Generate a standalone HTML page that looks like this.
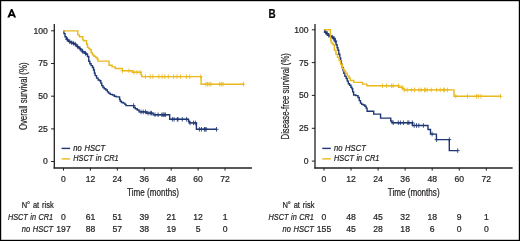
<!DOCTYPE html>
<html><head><meta charset="utf-8"><style>
html,body{margin:0;padding:0;background:#fff;}
svg{display:block;will-change:transform;font-family:"Liberation Sans",sans-serif;}
text{stroke:#231f20;stroke-width:0.22px;}
</style></head><body>
<svg width="520" height="241" viewBox="0 0 520 241">
<rect x="0" y="0" width="520" height="241" fill="#fff"/>
<rect x="0.6" y="0.6" width="518.8" height="239.8" fill="none" stroke="#000" stroke-width="1.2"/>
<path d="M7.3 17.6L11.0 8.9H12.4L16.1 17.6H13.9L13.3 16.0H10.1L9.5 17.6ZM10.75 14.2H12.65L11.7 11.5Z" fill="#000" fill-rule="evenodd"/>
<path d="M54.3 24.1V168.6" fill="none" stroke="#231f20" stroke-width="1.3"/>
<path d="M53.65 168.0H251.89999999999998" fill="none" stroke="#231f20" stroke-width="1.6"/>
<path d="M51.099999999999994 30.8H54.3M51.099999999999994 63.5H54.3M51.099999999999994 96.2H54.3M51.099999999999994 128.9H54.3M51.099999999999994 161.5H54.3M63.50 167.8V170.6M90.42 167.8V170.6M117.34 167.8V170.6M144.26 167.8V170.6M171.18 167.8V170.6M198.10 167.8V170.6M225.02 167.8V170.6" stroke="#231f20" stroke-width="1"/>
<text x="47.9" y="33.70" text-anchor="end" font-size="8.6px" fill="#231f20">100</text>
<text x="47.9" y="66.40" text-anchor="end" font-size="8.6px" fill="#231f20">75</text>
<text x="47.9" y="99.10" text-anchor="end" font-size="8.6px" fill="#231f20">50</text>
<text x="47.9" y="131.80" text-anchor="end" font-size="8.6px" fill="#231f20">25</text>
<text x="47.9" y="164.40" text-anchor="end" font-size="8.6px" fill="#231f20">0</text>
<text x="63.50" y="181.6" text-anchor="middle" font-size="8.6px" fill="#231f20">0</text>
<text x="90.42" y="181.6" text-anchor="middle" font-size="8.6px" fill="#231f20">12</text>
<text x="117.34" y="181.6" text-anchor="middle" font-size="8.6px" fill="#231f20">24</text>
<text x="144.26" y="181.6" text-anchor="middle" font-size="8.6px" fill="#231f20">36</text>
<text x="171.18" y="181.6" text-anchor="middle" font-size="8.6px" fill="#231f20">48</text>
<text x="198.10" y="181.6" text-anchor="middle" font-size="8.6px" fill="#231f20">60</text>
<text x="225.02" y="181.6" text-anchor="middle" font-size="8.6px" fill="#231f20">72</text>
<text x="127.10" y="195.5" font-size="10px" textLength="51.8" lengthAdjust="spacingAndGlyphs" fill="#231f20">Time (months)</text>
<text transform="translate(27.099999999999998,130.10) rotate(-90)" x="0" y="0" font-size="10px" textLength="67.6" lengthAdjust="spacingAndGlyphs" fill="#231f20">Overall survival (%)</text>
<path d="M61.599999999999994 148.4H70.1" stroke="#1f3874" stroke-width="1.4"/>
<path d="M61.599999999999994 158.9H70.1" stroke="#eab91e" stroke-width="1.4"/>
<text x="73.3" y="150.6" font-style="italic" font-size="8.2px" word-spacing="0.6" textLength="31.8" lengthAdjust="spacingAndGlyphs" fill="#231f20">no HSCT</text>
<text x="73.3" y="161.1" font-style="italic" font-size="8.2px" word-spacing="0.6" textLength="45.4" lengthAdjust="spacingAndGlyphs" fill="#231f20">HSCT in CR1</text>
<polyline points="63.50,30.80 63.95,30.80 63.95,33.60 64.40,33.60 65.00,33.60 65.00,36.75 65.60,36.75 66.25,36.75 66.25,38.90 66.90,38.90 67.50,38.90 67.50,40.50 68.10,40.50 68.75,40.50 68.75,41.40 69.40,41.40 70.00,41.40 70.00,42.30 70.60,42.30 71.55,42.30 71.55,43.00 72.50,43.00 73.45,43.00 73.45,43.60 74.40,43.60 75.00,43.60 75.00,44.40 75.60,44.40 75.92,44.40 75.92,45.40 76.25,45.40 76.88,45.40 76.88,46.50 77.50,46.50 78.12,46.50 78.12,47.40 78.75,47.40 79.38,47.40 79.38,48.60 80.00,48.60 80.62,48.60 80.62,49.90 81.25,49.90 82.17,49.90 82.17,51.75 83.10,51.75 84.05,51.75 84.05,53.00 85.00,53.00 85.95,53.00 85.95,54.25 86.90,54.25 87.50,54.25 87.50,56.50 88.10,56.50 88.75,56.50 88.75,61.25 89.40,61.25 89.83,61.25 89.83,63.75 90.25,63.75 91.08,63.75 91.08,65.60 91.90,65.60 92.50,65.60 92.50,67.50 93.10,67.50 93.55,67.50 93.55,70.00 94.00,70.00 94.38,70.00 94.38,73.10 94.75,73.10 95.17,73.10 95.17,75.60 95.60,75.60 96.55,75.60 96.55,78.10 97.50,78.10 98.12,78.10 98.12,80.00 98.75,80.00 99.62,80.00 99.62,80.80 100.50,80.80 100.80,80.80 100.80,83.10 101.10,83.10 101.75,83.10 101.75,85.60 102.40,85.60 103.00,85.60 103.00,87.50 103.60,87.50 104.25,87.50 104.25,88.75 104.90,88.75 105.83,88.75 105.83,90.00 106.75,90.00 107.38,90.00 107.38,91.90 108.00,91.90 108.62,91.90 108.62,93.10 109.25,93.10 110.17,93.10 110.17,94.40 111.10,94.40 112.35,94.40 112.35,95.00 113.60,95.00 114.25,95.00 114.25,96.25 114.90,96.25 116.15,96.25 116.15,96.90 117.40,96.90 119.25,96.90 119.58,96.90 119.58,99.40 119.90,99.40 120.20,99.40 120.20,101.25 120.50,101.25 121.45,101.25 121.45,102.50 122.40,102.50 123.33,102.50 123.33,103.10 124.25,103.10 124.88,103.10 124.88,104.40 125.50,104.40 126.00,104.40 126.00,105.60 126.50,105.60 133.10,105.60 133.75,105.60 133.75,107.50 134.40,107.50 135.32,107.50 135.32,108.75 136.25,108.75 137.18,108.75 137.18,110.00 138.10,110.00 139.05,110.00 139.05,111.90 140.00,111.90 146.25,111.90 146.57,111.90 146.57,113.10 146.90,113.10 152.50,113.10 153.12,113.10 153.12,114.75 153.75,114.75 169.65,114.75 169.65,119.30 188.25,119.30 188.53,119.30 188.53,121.40 188.80,121.40 189.40,121.40 189.40,122.90 190.00,122.90 196.40,122.90 196.40,129.30 216.50,129.30" fill="none" stroke="#1f3874" stroke-width="1.4" stroke-linejoin="miter"/>
<path d="M67.30 37.13V41.73M65.30 39.43H69.30M69.80 39.40V44.00M67.80 41.70H71.80M71.80 40.44V45.04M69.80 42.74H73.80M73.60 41.05V45.65M71.60 43.35H75.60M75.30 41.90V46.50M73.30 44.20H77.30M77.60 44.27V48.87M75.60 46.57H79.60M80.20 46.51V51.11M78.20 48.81H82.20M82.60 48.95V53.55M80.60 51.25H84.60M85.50 51.03V55.63M83.50 53.33H87.50M133.60 103.30V107.90M131.60 105.60H135.60M141.00 109.60V114.20M139.00 111.90H143.00M143.20 109.60V114.20M141.20 111.90H145.20M145.60 109.60V114.20M143.60 111.90H147.60M148.00 110.80V115.40M146.00 113.10H150.00M150.20 110.80V115.40M148.20 113.10H152.20M151.50 110.80V115.40M149.50 113.10H153.50M155.00 112.45V117.05M153.00 114.75H157.00M158.10 112.45V117.05M156.10 114.75H160.10M161.90 112.45V117.05M159.90 114.75H163.90M163.10 112.45V117.05M161.10 114.75H165.10M164.20 112.45V117.05M162.20 114.75H166.20M165.40 112.45V117.05M163.40 114.75H167.40M172.40 117.00V121.60M170.40 119.30H174.40M174.10 117.00V121.60M172.10 119.30H176.10M177.30 117.00V121.60M175.30 119.30H179.30M178.00 117.00V121.60M176.00 119.30H180.00M182.30 117.00V121.60M180.30 119.30H184.30M186.60 117.00V121.60M184.60 119.30H188.60M190.10 120.60V125.20M188.10 122.90H192.10M193.50 120.60V125.20M191.50 122.90H195.50M195.30 120.60V125.20M193.30 122.90H197.30M199.40 127.00V131.60M197.40 129.30H201.40M201.40 127.00V131.60M199.40 129.30H203.40M204.40 127.00V131.60M202.40 129.30H206.40M205.10 127.00V131.60M203.10 129.30H207.10M206.20 127.00V131.60M204.20 129.30H208.20M216.50 127.00V131.60M214.50 129.30H218.50" stroke="#1f3874" stroke-width="0.85" fill="none"/>
<polyline points="63.00,30.90 76.90,30.90 77.83,30.90 77.83,34.90 78.75,34.90 79.38,34.90 79.38,36.75 80.00,36.75 82.50,36.75 82.80,36.75 82.80,39.90 83.10,39.90 83.75,39.90 83.75,40.70 84.40,40.70 86.25,40.70 86.58,40.70 86.58,44.25 86.90,44.25 87.50,44.25 87.50,47.40 88.10,47.40 88.75,47.40 88.75,48.60 89.40,48.60 90.00,48.60 90.00,49.80 90.60,49.80 91.20,49.80 91.20,52.75 91.80,52.75 92.45,52.75 92.45,54.80 93.10,54.80 93.75,54.80 93.75,56.20 94.40,56.20 95.65,56.20 95.65,57.50 96.90,57.50 97.20,57.50 97.20,59.00 97.50,59.00 98.00,59.00 98.00,61.10 98.50,61.10 109.00,61.10 109.00,65.30 112.10,65.30 112.10,66.90 115.20,66.90 115.20,68.50 122.50,68.50 122.50,70.80 132.30,70.80 132.30,72.30 141.10,72.30 141.10,74.60 141.70,74.60 141.70,76.60 142.30,76.60 201.10,76.60 201.10,84.20 243.50,84.20" fill="none" stroke="#eab91e" stroke-width="1.4" stroke-linejoin="miter"/>
<path d="M122.50 68.50V73.10M120.50 70.80H124.50M129.00 68.50V73.10M127.00 70.80H131.00M133.90 70.00V74.60M131.90 72.30H135.90M137.00 70.00V74.60M135.00 72.30H139.00M140.10 70.00V74.60M138.10 72.30H142.10M145.40 74.30V78.90M143.40 76.60H147.40M150.10 74.30V78.90M148.10 76.60H152.10M152.80 74.30V78.90M150.80 76.60H154.80M158.80 74.30V78.90M156.80 76.60H160.80M162.20 74.30V78.90M160.20 76.60H164.20M164.90 74.30V78.90M162.90 76.60H166.90M168.30 74.30V78.90M166.30 76.60H170.30M173.60 74.30V78.90M171.60 76.60H175.60M177.00 74.30V78.90M175.00 76.60H179.00M180.40 74.30V78.90M178.40 76.60H182.40M186.40 74.30V78.90M184.40 76.60H188.40M189.80 74.30V78.90M187.80 76.60H191.80M200.60 74.30V78.90M198.60 76.60H202.60M205.80 81.90V86.50M203.80 84.20H207.80M207.50 81.90V86.50M205.50 84.20H209.50M209.20 81.90V86.50M207.20 84.20H211.20M210.90 81.90V86.50M208.90 84.20H212.90M219.60 81.90V86.50M217.60 84.20H221.60M221.30 81.90V86.50M219.30 84.20H223.30M223.00 81.90V86.50M221.00 84.20H225.00M243.50 81.90V86.50M241.50 84.20H245.50" stroke="#eab91e" stroke-width="0.85" fill="none"/>
<text x="53.699999999999996" y="208.4" text-anchor="end" font-size="8.3px" word-spacing="0.8" textLength="32" lengthAdjust="spacingAndGlyphs" fill="#231f20">N° at risk</text>
<text x="53.199999999999996" y="220.2" text-anchor="end" font-style="italic" font-size="8.2px" word-spacing="0.6" textLength="45.3" lengthAdjust="spacingAndGlyphs" fill="#231f20">HSCT in CR1</text>
<text x="53.199999999999996" y="231.7" text-anchor="end" font-style="italic" font-size="8.2px" word-spacing="0.6" textLength="31.4" lengthAdjust="spacingAndGlyphs" fill="#231f20">no HSCT</text>
<text x="63.50" y="220.2" text-anchor="middle" font-size="8.6px" fill="#231f20">0</text>
<text x="63.50" y="231.7" text-anchor="middle" font-size="8.6px" fill="#231f20">197</text>
<text x="90.42" y="220.2" text-anchor="middle" font-size="8.6px" fill="#231f20">61</text>
<text x="90.42" y="231.7" text-anchor="middle" font-size="8.6px" fill="#231f20">88</text>
<text x="117.34" y="220.2" text-anchor="middle" font-size="8.6px" fill="#231f20">51</text>
<text x="117.34" y="231.7" text-anchor="middle" font-size="8.6px" fill="#231f20">57</text>
<text x="144.26" y="220.2" text-anchor="middle" font-size="8.6px" fill="#231f20">39</text>
<text x="144.26" y="231.7" text-anchor="middle" font-size="8.6px" fill="#231f20">38</text>
<text x="171.18" y="220.2" text-anchor="middle" font-size="8.6px" fill="#231f20">21</text>
<text x="171.18" y="231.7" text-anchor="middle" font-size="8.6px" fill="#231f20">19</text>
<text x="198.10" y="220.2" text-anchor="middle" font-size="8.6px" fill="#231f20">12</text>
<text x="198.10" y="231.7" text-anchor="middle" font-size="8.6px" fill="#231f20">5</text>
<text x="225.02" y="220.2" text-anchor="middle" font-size="8.6px" fill="#231f20">1</text>
<text x="225.02" y="231.7" text-anchor="middle" font-size="8.6px" fill="#231f20">0</text>
<text x="268.6" y="18.3" font-weight="bold" font-size="12.6px" textLength="7.2" lengthAdjust="spacingAndGlyphs" fill="#000">B</text>
<path d="M315.0 24.1V168.6" fill="none" stroke="#231f20" stroke-width="1.3"/>
<path d="M314.35 168.0H512.6" fill="none" stroke="#231f20" stroke-width="1.6"/>
<path d="M311.8 29.8H315.0M311.8 62.6H315.0M311.8 95.4H315.0M311.8 128.3H315.0M311.8 161.1H315.0M324.00 167.8V170.6M351.05 167.8V170.6M378.10 167.8V170.6M405.15 167.8V170.6M432.20 167.8V170.6M459.25 167.8V170.6M486.30 167.8V170.6" stroke="#231f20" stroke-width="1"/>
<text x="308.6" y="32.70" text-anchor="end" font-size="8.6px" fill="#231f20">100</text>
<text x="308.6" y="65.50" text-anchor="end" font-size="8.6px" fill="#231f20">75</text>
<text x="308.6" y="98.30" text-anchor="end" font-size="8.6px" fill="#231f20">50</text>
<text x="308.6" y="131.20" text-anchor="end" font-size="8.6px" fill="#231f20">25</text>
<text x="308.6" y="164.00" text-anchor="end" font-size="8.6px" fill="#231f20">0</text>
<text x="324.00" y="181.6" text-anchor="middle" font-size="8.6px" fill="#231f20">0</text>
<text x="351.05" y="181.6" text-anchor="middle" font-size="8.6px" fill="#231f20">12</text>
<text x="378.10" y="181.6" text-anchor="middle" font-size="8.6px" fill="#231f20">24</text>
<text x="405.15" y="181.6" text-anchor="middle" font-size="8.6px" fill="#231f20">36</text>
<text x="432.20" y="181.6" text-anchor="middle" font-size="8.6px" fill="#231f20">48</text>
<text x="459.25" y="181.6" text-anchor="middle" font-size="8.6px" fill="#231f20">60</text>
<text x="486.30" y="181.6" text-anchor="middle" font-size="8.6px" fill="#231f20">72</text>
<text x="387.80" y="195.5" font-size="10px" textLength="51.8" lengthAdjust="spacingAndGlyphs" fill="#231f20">Time (months)</text>
<text transform="translate(288.6,139.45) rotate(-90)" x="0" y="0" font-size="10px" textLength="86.3" lengthAdjust="spacingAndGlyphs" fill="#231f20">Disease-free survival (%)</text>
<path d="M322.3 148.4H330.8" stroke="#1f3874" stroke-width="1.4"/>
<path d="M322.3 158.9H330.8" stroke="#eab91e" stroke-width="1.4"/>
<text x="334.0" y="150.6" font-style="italic" font-size="8.2px" word-spacing="0.6" textLength="31.8" lengthAdjust="spacingAndGlyphs" fill="#231f20">no HSCT</text>
<text x="334.0" y="161.1" font-style="italic" font-size="8.2px" word-spacing="0.6" textLength="45.4" lengthAdjust="spacingAndGlyphs" fill="#231f20">HSCT in CR1</text>
<polyline points="324.00,29.80 324.85,29.80 324.85,32.20 325.70,32.20 326.50,32.20 326.50,33.80 327.30,33.80 328.05,33.80 328.05,35.30 328.80,35.30 329.85,35.30 329.85,36.40 330.90,36.40 331.95,36.40 331.95,37.40 333.00,37.40 333.75,37.40 333.75,39.00 334.50,39.00 335.05,39.00 335.05,41.60 335.60,41.60 336.10,41.60 336.10,44.70 336.60,44.70 337.10,44.70 337.10,47.80 337.60,47.80 337.95,47.80 337.95,50.20 338.30,50.20 338.80,50.20 338.80,54.30 339.30,54.30 339.85,54.30 339.85,58.00 340.40,58.00 340.65,58.00 340.65,61.10 340.90,61.10 341.40,61.10 341.40,64.20 341.90,64.20 342.25,64.20 342.25,67.50 342.60,67.50 343.05,67.50 343.05,70.50 343.50,70.50 343.80,70.50 343.80,73.30 344.10,73.30 344.90,73.30 344.90,76.40 345.70,76.40 346.20,76.40 346.20,78.50 346.70,78.50 347.25,78.50 347.25,81.10 347.80,81.10 348.30,81.10 348.30,83.70 348.80,83.70 349.60,83.70 349.60,85.20 350.40,85.20 350.90,85.20 350.90,87.30 351.40,87.30 351.90,87.30 351.90,88.75 352.40,88.75 352.70,88.75 352.70,91.90 353.00,91.90 353.62,91.90 353.62,95.00 354.25,95.00 355.82,95.00 355.82,95.60 357.40,95.60 358.00,95.60 358.00,97.50 358.60,97.50 359.25,97.50 359.25,100.60 359.90,100.60 360.50,100.60 360.50,103.10 361.10,103.10 361.75,103.10 361.75,104.40 362.40,104.40 363.32,104.40 363.32,105.00 364.25,105.00 364.88,105.00 364.88,106.25 365.50,106.25 366.12,106.25 366.12,108.10 366.75,108.10 367.07,108.10 367.07,111.20 367.40,111.20 372.80,111.20 373.70,111.20 373.70,114.10 374.60,114.10 379.60,114.10 380.55,114.10 380.55,118.10 381.50,118.10 390.10,118.10 390.75,118.10 390.75,121.00 391.40,121.00 391.95,121.00 391.95,122.75 392.50,122.75 412.40,122.75 412.40,125.50 428.00,125.50 428.00,129.50 430.50,129.50 430.50,134.10 436.40,134.10 436.40,139.60 449.30,139.60 449.30,150.60 457.70,150.60" fill="none" stroke="#1f3874" stroke-width="1.4" stroke-linejoin="miter"/>
<path d="M325.60 29.76V34.36M323.60 32.06H327.60M327.20 31.40V36.00M325.20 33.70H329.20M328.80 33.00V37.60M326.80 35.30H330.80M330.40 33.84V38.44M328.40 36.14H332.40M332.20 34.72V39.32M330.20 37.02H334.20M333.80 35.95V40.55M331.80 38.25H335.80M335.30 38.59V43.19M333.30 40.89H337.30M393.20 120.45V125.05M391.20 122.75H395.20M398.30 120.45V125.05M396.30 122.75H400.30M400.40 120.45V125.05M398.40 122.75H402.40M403.40 120.45V125.05M401.40 122.75H405.40M407.80 120.45V125.05M405.80 122.75H409.80M408.90 120.45V125.05M406.90 122.75H410.90M412.30 120.45V125.05M410.30 122.75H414.30M414.20 123.20V127.80M412.20 125.50H416.20M416.50 123.20V127.80M414.50 125.50H418.50M418.80 123.20V127.80M416.80 125.50H420.80M423.40 123.20V127.80M421.40 125.50H425.40M432.10 131.80V136.40M430.10 134.10H434.10M436.60 137.30V141.90M434.60 139.60H438.60M449.30 137.30V141.90M447.30 139.60H451.30M457.70 148.30V152.90M455.70 150.60H459.70" stroke="#1f3874" stroke-width="0.85" fill="none"/>
<polyline points="323.60,29.80 330.40,29.80 330.40,34.30 330.40,37.40 330.65,37.40 330.65,40.50 330.90,40.50 331.15,40.50 331.15,42.60 331.40,42.60 332.20,42.60 332.20,43.60 333.00,43.60 333.30,43.60 333.30,45.00 333.60,45.00 334.40,45.00 334.40,50.20 335.20,50.20 335.95,50.20 335.95,54.30 336.70,54.30 337.50,54.30 337.50,57.40 338.30,57.40 339.10,57.40 339.10,60.60 339.90,60.60 340.65,60.60 340.65,64.20 341.40,64.20 342.25,64.20 342.25,68.60 343.10,68.60 343.90,68.60 343.90,70.70 344.70,70.70 345.45,70.70 345.45,73.30 346.20,73.30 347.25,73.30 347.25,75.90 348.30,75.90 349.10,75.90 349.10,78.00 349.90,78.00 350.25,78.00 350.25,80.50 350.60,80.50 353.80,80.50 353.80,82.40 362.50,82.40 362.50,84.10 366.90,84.10 366.90,85.80 398.60,85.80 398.60,87.30 402.20,87.30 402.20,88.60 404.20,88.60 404.20,89.90 454.00,89.90 454.00,96.30 500.50,96.30" fill="none" stroke="#eab91e" stroke-width="1.4" stroke-linejoin="miter"/>
<path d="M382.50 83.50V88.10M380.50 85.80H384.50M386.40 83.50V88.10M384.40 85.80H388.40M391.50 83.50V88.10M389.50 85.80H393.50M393.10 83.50V88.10M391.10 85.80H395.10M398.60 83.50V88.10M396.60 85.80H400.60M402.20 85.00V89.60M400.20 87.30H404.20M404.25 87.60V92.20M402.25 89.90H406.25M407.25 87.60V92.20M405.25 89.90H409.25M411.40 87.60V92.20M409.40 89.90H413.40M414.50 87.60V92.20M412.50 89.90H416.50M419.00 87.60V92.20M417.00 89.90H421.00M421.25 87.60V92.20M419.25 89.90H423.25M424.50 87.60V92.20M422.50 89.90H426.50M425.25 87.60V92.20M423.25 89.90H427.25M427.25 87.60V92.20M425.25 89.90H429.25M431.20 87.60V92.20M429.20 89.90H433.20M436.70 87.60V92.20M434.70 89.90H438.70M440.20 87.60V92.20M438.20 89.90H442.20M443.40 87.60V92.20M441.40 89.90H445.40M444.60 87.60V92.20M442.60 89.90H446.60M447.50 87.60V92.20M445.50 89.90H449.50M455.80 94.00V98.60M453.80 96.30H457.80M467.50 94.00V98.60M465.50 96.30H469.50M476.50 94.00V98.60M474.50 96.30H478.50M478.20 94.00V98.60M476.20 96.30H480.20M481.00 94.00V98.60M479.00 96.30H483.00M500.50 94.00V98.60M498.50 96.30H502.50" stroke="#eab91e" stroke-width="0.85" fill="none"/>
<text x="314.4" y="208.4" text-anchor="end" font-size="8.3px" word-spacing="0.8" textLength="32" lengthAdjust="spacingAndGlyphs" fill="#231f20">N° at risk</text>
<text x="313.9" y="220.2" text-anchor="end" font-style="italic" font-size="8.2px" word-spacing="0.6" textLength="45.3" lengthAdjust="spacingAndGlyphs" fill="#231f20">HSCT in CR1</text>
<text x="313.9" y="231.7" text-anchor="end" font-style="italic" font-size="8.2px" word-spacing="0.6" textLength="31.4" lengthAdjust="spacingAndGlyphs" fill="#231f20">no HSCT</text>
<text x="324.00" y="220.2" text-anchor="middle" font-size="8.6px" fill="#231f20">0</text>
<text x="324.00" y="231.7" text-anchor="middle" font-size="8.6px" fill="#231f20">155</text>
<text x="351.05" y="220.2" text-anchor="middle" font-size="8.6px" fill="#231f20">48</text>
<text x="351.05" y="231.7" text-anchor="middle" font-size="8.6px" fill="#231f20">45</text>
<text x="378.10" y="220.2" text-anchor="middle" font-size="8.6px" fill="#231f20">45</text>
<text x="378.10" y="231.7" text-anchor="middle" font-size="8.6px" fill="#231f20">28</text>
<text x="405.15" y="220.2" text-anchor="middle" font-size="8.6px" fill="#231f20">32</text>
<text x="405.15" y="231.7" text-anchor="middle" font-size="8.6px" fill="#231f20">18</text>
<text x="432.20" y="220.2" text-anchor="middle" font-size="8.6px" fill="#231f20">18</text>
<text x="432.20" y="231.7" text-anchor="middle" font-size="8.6px" fill="#231f20">6</text>
<text x="459.25" y="220.2" text-anchor="middle" font-size="8.6px" fill="#231f20">9</text>
<text x="459.25" y="231.7" text-anchor="middle" font-size="8.6px" fill="#231f20">0</text>
<text x="486.30" y="220.2" text-anchor="middle" font-size="8.6px" fill="#231f20">1</text>
<text x="486.30" y="231.7" text-anchor="middle" font-size="8.6px" fill="#231f20">0</text>
</svg>
</body></html>
